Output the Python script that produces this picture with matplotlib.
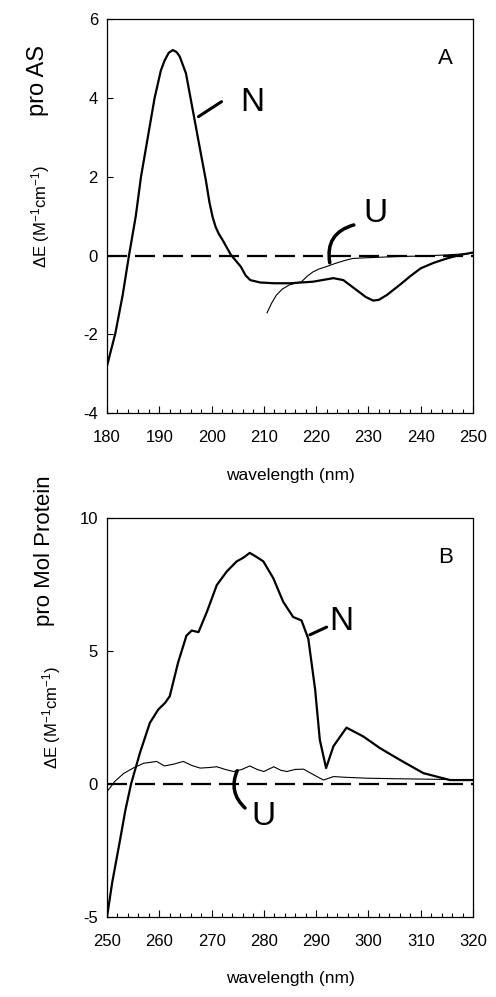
import numpy as np
import matplotlib
matplotlib.use("Agg")
import matplotlib.pyplot as plt
from matplotlib.ticker import MultipleLocator

plt.rcParams['font.family'] = ['Liberation Sans', 'DejaVu Sans']
plt.rcParams['mathtext.fontset'] = 'custom'
plt.rcParams['mathtext.rm'] = 'Liberation Sans'
plt.rcParams['mathtext.it'] = 'Liberation Sans:italic'
plt.rcParams['axes.unicode_minus'] = False

# panel A: far-UV CD, native (N) and unfolded (U)
wl_a_native = [180, 181.6, 183, 184.2, 185.5, 186.5, 187.8, 189.1, 190.3, 191,
               191.8, 192.6, 193.3, 193.9, 195.1, 196.4, 197.7, 198.9, 199.6, 200.2,
               200.8, 201.4, 202.1, 203.7, 205.6, 206.5, 207.4, 209.3, 212, 215,
               219.4, 223.3, 225.2, 227.7, 229.5, 230.9, 232, 233.5, 236, 238,
               240, 242.5, 245, 247.5, 250]
cd_a_native = [-2.8, -1.97, -1.0, 0.0, 1.0, 2.0, 3.0, 4.0, 4.7, 4.95,
               5.15, 5.22, 5.17, 5.06, 4.63, 3.7, 2.77, 1.92, 1.35, 0.98,
               0.72, 0.55, 0.4, 0.02, -0.28, -0.5, -0.62, -0.68, -0.7, -0.7,
               -0.66, -0.57, -0.62, -0.87, -1.05, -1.14, -1.12, -1.0, -0.74, -0.52,
               -0.32, -0.18, -0.07, 0.02, 0.08]
wl_a_unf = [210.6, 211.5, 212.4, 213.5, 214.9, 217.2, 218.3, 219.4, 220.5, 221.9,
            223.8, 225.5, 227, 230, 236, 240, 245, 250]
cd_a_unf = [-1.45, -1.2, -1.0, -0.85, -0.74, -0.66, -0.52, -0.41, -0.34, -0.28,
            -0.19, -0.12, -0.07, -0.05, -0.02, -0.01, 0.02, 0.06]

# panel B: near-UV CD
wl_b_native = [250, 251, 252.5, 253.5, 254.6, 256.3, 258.2, 259.8, 261.1, 262,
               263.6, 265.2, 266.2, 267.5, 269.1, 271, 272.9, 274.8, 276, 277.3,
               278.5, 279.9, 281.8, 283.7, 285.6, 287.2, 288.5, 289.8, 290.7, 291.9,
               293.3, 295.8, 299, 302.2, 306, 310.5, 315.6, 320]
cd_b_native = [-5.0, -3.7, -2.1, -1.0, 0.0, 1.17, 2.3, 2.8, 3.05, 3.3,
               4.57, 5.58, 5.77, 5.71, 6.47, 7.48, 7.99, 8.37, 8.5, 8.69,
               8.55, 8.37, 7.74, 6.85, 6.28, 6.15, 5.46, 3.56, 1.66, 0.6,
               1.42, 2.12, 1.79, 1.35, 0.91, 0.41, 0.15, 0.15]
wl_b_unf = [250, 251.5, 253.2, 255, 257, 259.5, 261, 262.8, 264.6, 266.2,
            267.8, 269.5, 271, 272.6, 274.2, 275.8, 277.3, 278.7, 280, 281.9,
            283.2, 284.4, 286, 287.6, 289.5, 291.4, 293.3, 296, 299.6, 305,
            312.4, 320]
cd_b_unf = [-0.29, 0.1, 0.4, 0.6, 0.78, 0.85, 0.68, 0.75, 0.85, 0.7,
            0.6, 0.62, 0.65, 0.55, 0.47, 0.55, 0.68, 0.55, 0.47, 0.65,
            0.52, 0.47, 0.55, 0.56, 0.35, 0.15, 0.28, 0.25, 0.22, 0.2,
            0.18, 0.15]

xticks_a = [180, 190, 200, 210, 220, 230, 240, 250]
yticks_a = [-4, -2, 0, 2, 4, 6]
xticks_b = [250, 260, 270, 280, 290, 300, 310, 320]
yticks_b = [-5, 0, 5, 10]

ylab = r'$\Delta$E (M$^{-1}$cm$^{-1}$)'


def setup(ax, xticks, yticks, letter, ylab_x, xlab_y):
    ax.set_xlim(xticks[0], xticks[-1])
    ax.set_ylim(yticks[0], yticks[-1])
    ax.set_xticks(xticks)
    ax.set_yticks(yticks)
    ax.xaxis.set_minor_locator(MultipleLocator(2))
    ax.tick_params(axis='x', which='major', direction='in', length=5, width=0.8,
                   pad=12, labelsize=12, top=False)
    ax.tick_params(axis='x', which='minor', direction='in', length=3, width=0.8,
                   top=False)
    ax.tick_params(axis='y', which='major', direction='in', length=4.5, width=0.8,
                   pad=6.5, labelsize=12, right=False)
    for s in ax.spines.values():
        s.set_linewidth(0.9)
    ax.set_xlabel('wavelength (nm)', fontsize=12.5)
    ax.xaxis.set_label_coords(0.5, xlab_y)
    ax.set_ylabel(ylab, fontsize=12)
    ax.yaxis.set_label_coords(ylab_x, 0.5)
    ax.text(0.925, 0.9, letter, transform=ax.transAxes, fontsize=16,
            ha='center', va='center')
    ax.axhline(0, color='black', lw=1.6, linestyle=(0, (9, 3.6)), zorder=1)


fig = plt.figure(figsize=(4.96, 9.97), dpi=100)
axA = fig.add_axes([0.2157, 0.5855, 0.738, 0.3951])
axB = fig.add_axes([0.2157, 0.0802, 0.738, 0.4002])

setup(axA, xticks_a, yticks_a, 'A', -0.15, -0.14)
axA.plot(wl_a_native, cd_a_native, color='black', lw=1.6, zorder=3)
axA.plot(wl_a_unf, cd_a_unf, color='black', lw=0.8, zorder=3)

setup(axB, xticks_b, yticks_b, 'B', -0.12, -0.135)
axB.plot(wl_b_native, cd_b_native, color='black', lw=1.6, zorder=3)
axB.plot(wl_b_unf, cd_b_unf, color='black', lw=0.8, zorder=3)

# handwritten notes
hand = dict(color='black', fontsize=24, ha='center', va='center')
axA.annotate('', xy=(197.5, 3.53), xytext=(201.9, 3.91),
             arrowprops=dict(arrowstyle='-', lw=2.2, color='black',
                             shrinkA=0, shrinkB=0))
axA.text(207.7, 3.9, 'N', **hand)
axA.annotate('', xy=(222.6, -0.18), xytext=(227.2, 0.78),
             arrowprops=dict(arrowstyle='-', lw=2.5, color='black',
                             shrinkA=0, shrinkB=0,
                             connectionstyle='arc3,rad=0.45'))
axA.text(231.4, 1.06, 'U', **hand)

axB.annotate('', xy=(288.8, 5.61), xytext=(292.0, 5.9),
             arrowprops=dict(arrowstyle='-', lw=2.2, color='black',
                             shrinkA=0, shrinkB=0))
axB.text(294.8, 6.1, 'N', **hand)
axB.annotate('', xy=(276.4, -0.9), xytext=(274.9, 0.5),
             arrowprops=dict(arrowstyle='-', lw=2.5, color='black',
                             shrinkA=0, shrinkB=0,
                             connectionstyle='arc3,rad=0.35'))
axB.text(280.0, -1.23, 'U', **hand)

fig.text(38 / 496, 1 - 81 / 997, 'pro AS', rotation=90, fontsize=17,
         ha='center', va='center')
fig.text(45 / 496, 1 - 551 / 997, 'pro Mol Protein', rotation=90, fontsize=16,
         ha='center', va='center')

fig.savefig('out.png', dpi=100)
